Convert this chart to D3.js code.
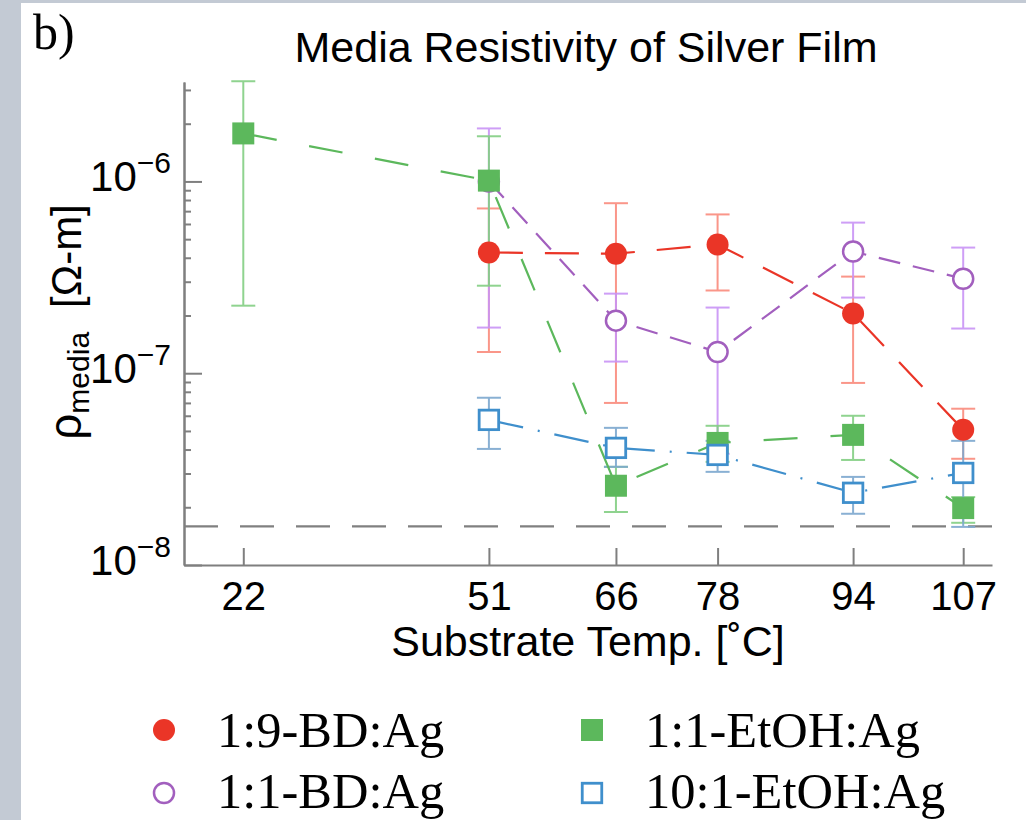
<!DOCTYPE html>
<html>
<head>
<meta charset="utf-8">
<script src="https://cdn.jsdelivr.net/npm/d3@7"></script>
<style>
  body { margin: 0; background: #c3cad4; }
</style>
</head>
<body>
<script>
// ---- data ----
const xTicks = [22, 51, 66, 78, 94, 107];
const yMajorExps = [-6, -7, -8];
const agBulk = 1.59e-8; // bulk silver, dashed line

const redT = [51, 66, 78, 94, 107];
const redVal = [4.26e-7, 4.2e-7, 4.69e-7, 2.05e-7, 5.07e-8];
const redHi = [7.23e-7, 7.7e-7, 6.73e-7, 3.19e-7, 6.53e-8];
const redLo = [1.29e-7, 7.0e-8, 2.7e-7, 8.9e-8, 3.58e-8];

const purpleT = [51, 66, 78, 94, 107];
const purpleVal = [1.0e-6, 1.88e-7, 1.29e-7, 4.31e-7, 3.11e-7];
const purpleHi = [1.89e-6, 2.6e-7, 2.2e-7, 6.1e-7, 4.52e-7];
const purpleLo = [1.73e-7, 1.15e-7, 3.8e-8, 2.48e-7, 1.71e-7];

const greenT = [22, 51, 66, 78, 94, 107];
const greenVal = [1.78e-6, 1.01e-6, 2.59e-8, 4.33e-8, 4.77e-8, 1.98e-8];
const greenHi = [3.33e-6, 1.72e-6, 3.25e-8, 5.32e-8, 6.0e-8, 2.26e-8];
const greenLo = [2.25e-7, 2.86e-7, 1.89e-8, 3.45e-8, 3.53e-8, 1.66e-8];

const blueT = [51, 66, 78, 94, 107];
const blueVal = [5.71e-8, 4.08e-8, 3.75e-8, 2.38e-8, 3.02e-8];
const blueHi = [7.45e-8, 5.19e-8, 4.44e-8, 2.88e-8, 4.44e-8];
const blueLo = [4.03e-8, 3.25e-8, 3.06e-8, 1.85e-8, 1.58e-8];

const zip = (t, v, hi, lo) => t.map((d, i) => ({ t: d, v: v[i], hi: hi[i], lo: lo[i] }));

const series = [
  { name: "1:9-BD:Ag", pts: zip(redT, redVal, redHi, redLo), color: "#ea3527", err: "#fa8b7d",
    dash: "34,22", shape: "circle", fill: "#ea3527" },
  { name: "1:1-BD:Ag", pts: zip(purpleT, purpleVal, purpleHi, purpleLo), color: "#a25fbe", err: "#c994f6",
    dash: "22,13", shape: "circle", fill: "#fff" },
  { name: "1:1-EtOH:Ag", pts: zip(greenT, greenVal, greenHi, greenLo), color: "#5cb85c", err: "#83cf83",
    dash: "34,33", shape: "square", fill: "#5cb85c" },
  { name: "10:1-EtOH:Ag", pts: zip(blueT, blueVal, blueHi, blueLo), color: "#3f8fcc", err: "#7da8cf",
    dash: "35,15,2,15", shape: "square", fill: "#fff" },
];

const W = 1026, H = 820;
const sans = "'Liberation Sans', Arial, Helvetica, sans-serif";
const serif = "'Liberation Serif', 'Times New Roman', serif";
const axisGray = "#7f7f7f";

const svg = d3.select("body").append("svg").attr("width", W).attr("height", H);

// frame
svg.append("rect").attr("width", W).attr("height", H).attr("fill", "#c3cad4");
svg.append("rect").attr("x", 21).attr("y", 3).attr("width", W - 21).attr("height", H - 3).attr("fill", "#fff");

const x = d3.scaleLinear().domain([15, 110.4]).range([184, 992]);
const y = d3.scaleLog().domain([1e-8, 3.3e-6]).range([565, 82]);

// minor ticks
var minor = [];
[-8, -7, -6].forEach((e) => {
  for (let k = 2; k <= 9; k++) {
    const v = k * Math.pow(10, e);
    if (v <= y.domain()[1]) minor.push(v);
  }
});

// y axis
const yAxis = svg.append("g").attr("transform", "translate(184,0)");
yAxis.call(d3.axisRight(y).tickValues(minor).tickSize(7).tickSizeOuter(0).tickFormat(""));
yAxis.append("g").call(d3.axisRight(y).tickValues(yMajorExps.map((e) => Math.pow(10, e))).tickSize(18).tickSizeOuter(0).tickFormat(""));
yAxis.selectAll("path, line").attr("stroke", axisGray).attr("stroke-width", 2);

yMajorExps.forEach((e) => {
  const t = svg.append("text")
    .attr("x", 171)
    .attr("y", y(Math.pow(10, e)) + 10)
    .attr("text-anchor", "end")
    .attr("font-family", sans)
    .attr("font-size", 42)
    .attr("fill", "#000");
  t.append("tspan").text("10");
  t.append("tspan").attr("font-size", 30).attr("dy", -18).text("\u2212" + Math.abs(e));
});

// x axis
const xAxis = svg.append("g").attr("transform", "translate(0,565)");
xAxis.call(d3.axisBottom(x).tickValues(xTicks).tickSizeInner(-17).tickSizeOuter(0).tickPadding(17));
xAxis.selectAll("path, line").attr("stroke", axisGray).attr("stroke-width", 2);
xAxis.selectAll("text").attr("font-family", sans).attr("font-size", 40).attr("fill", "#000");

// bulk silver reference
svg.append("line")
  .attr("x1", 184).attr("x2", 992)
  .attr("y1", y(agBulk)).attr("y2", y(agBulk))
  .attr("stroke", "#808080").attr("stroke-width", 2.2)
  .attr("stroke-dasharray", "34,22");

// error bars
const capW = 12;
series.forEach((s) => {
  const g = svg.append("g").attr("stroke", s.err).attr("stroke-width", 2).attr("opacity", 0.9);
  s.pts.forEach((p) => {
    const cx = x(p.t);
    g.append("line").attr("x1", cx).attr("x2", cx).attr("y1", y(p.hi)).attr("y2", y(p.lo));
    g.append("line").attr("x1", cx - capW).attr("x2", cx + capW).attr("y1", y(p.hi)).attr("y2", y(p.hi));
    g.append("line").attr("x1", cx - capW).attr("x2", cx + capW).attr("y1", y(p.lo)).attr("y2", y(p.lo));
  });
});

// connecting lines
const line = d3.line().x((d) => x(d.t)).y((d) => y(d.v));
series.forEach((s) => {
  svg.append("path")
    .datum(s.pts)
    .attr("d", line)
    .attr("fill", "none")
    .attr("stroke", s.color)
    .attr("stroke-width", 2.2)
    .attr("stroke-dasharray", s.dash);
});

// markers
const drawMarker = (g, s, cx, cy) => {
  const open = s.fill === "#fff";
  if (s.shape === "circle") {
    g.append("circle").attr("cx", cx).attr("cy", cy).attr("r", open ? 10 : 11)
      .attr("fill", s.fill).attr("stroke", s.color).attr("stroke-width", open ? 2.5 : 0);
  } else {
    const a = open ? 19.5 : 22;
    g.append("rect").attr("x", cx - a / 2).attr("y", cy - a / 2).attr("width", a).attr("height", a)
      .attr("fill", s.fill).attr("stroke", s.color).attr("stroke-width", open ? 2.8 : 0);
  }
};

[1, 2, 0, 3].forEach((i) => {
  const s = series[i];
  const g = svg.append("g");
  s.pts.forEach((p) => drawMarker(g, s, x(p.t), y(p.v)));
});

// title
svg.append("text")
  .attr("x", 586).attr("y", 62)
  .attr("text-anchor", "middle")
  .attr("font-family", sans).attr("font-size", 43)
  .text("Media Resistivity of Silver Film");

// axis titles
svg.append("text")
  .attr("x", 588).attr("y", 656)
  .attr("text-anchor", "middle")
  .attr("font-family", sans).attr("font-size", 43)
  .text("Substrate Temp. [\u02DAC]");

const ylab = svg.append("text")
  .attr("transform", "translate(81,322) rotate(-90)")
  .attr("text-anchor", "middle")
  .attr("font-family", sans);
ylab.append("tspan").attr("font-size", 46).text("\u03C1");
ylab.append("tspan").attr("font-size", 30).attr("dy", 8).text("media");
ylab.append("tspan").attr("font-size", 42).attr("dy", -8).attr("dx", 24).text("[\u03A9-m]");

// panel letter
svg.append("text")
  .attr("x", 33).attr("y", 49)
  .attr("font-family", serif).attr("font-size", 50)
  .text("b)");

// legend
const legendPos = [
  { mx: 164, my: 730, tx: 217, ty: 747 },
  { mx: 164, my: 793, tx: 217, ty: 808 },
  { mx: 592, my: 730, tx: 645, ty: 747 },
  { mx: 592, my: 793, tx: 645, ty: 808 },
];
const legend = svg.append("g").attr("class", "legend");
series.forEach((s, i) => {
  const p = legendPos[i];
  drawMarker(legend, s, p.mx, p.my);
  legend.append("text")
    .attr("x", p.tx).attr("y", p.ty)
    .attr("font-family", serif).attr("font-size", 50.5)
    .text(s.name);
});
</script>
</body>
</html>
